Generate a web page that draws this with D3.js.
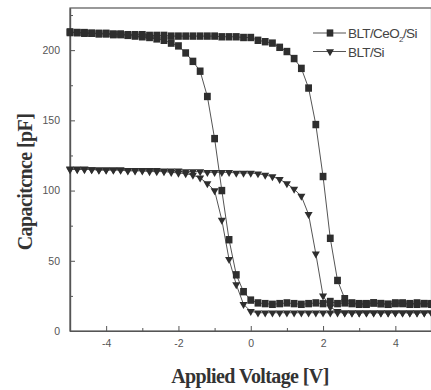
<!DOCTYPE html>
<html>
<head>
<meta charset="utf-8">
<script src="https://cdn.jsdelivr.net/npm/d3@7"></script>
<style>
  body { margin: 0; background: #fff; }
  svg { display: block; }
</style>
</head>
<body>
<script>
// applied voltage, -5 V .. 5 V in 0.2 V steps
var voltage = [-5.0, -4.8, -4.6, -4.4, -4.2, -4.0, -3.8, -3.6, -3.4, -3.2,
               -3.0, -2.8, -2.6, -2.4, -2.2, -2.0, -1.8, -1.6, -1.4, -1.2,
               -1.0, -0.8, -0.6, -0.4, -0.2, 0.0, 0.2, 0.4, 0.6, 0.8,
               1.0, 1.2, 1.4, 1.6, 1.8, 2.0, 2.2, 2.4, 2.6, 2.8,
               3.0, 3.2, 3.4, 3.6, 3.8, 4.0, 4.2, 4.4, 4.6, 4.8, 5.0];

// BLT/CeO2/Si, sweep -5 -> 5 (values listed by voltage)
var ceoUp = [213, 212.5, 212.5, 212, 212, 212, 211.5, 211.5, 211, 211,
             211, 210.5, 210.5, 210.5, 210, 210, 210, 210, 210, 210,
             210, 209.5, 209.5, 209.5, 209, 209, 207, 206, 205, 202,
             199, 194, 187, 173, 147, 110, 66, 36, 23, 20,
             19.5, 19, 20, 19.5, 19, 20, 19.5, 19, 20, 19.5, 19];
// BLT/CeO2/Si, sweep 5 -> -5 (values listed by voltage)
var ceoDown = [212.5, 212.5, 212, 212, 211.5, 211.5, 211, 211, 210.5, 210,
               209.5, 209, 208, 207, 205, 203, 198, 192, 185, 167,
               137, 100, 65, 40, 28, 22, 20, 19.5, 19, 19.5,
               20, 19.5, 19, 19.5, 20, 19.5, 21, 19.5, 20, 19.5,
               19, 19.5, 20, 19.5, 19, 19.5, 20, 19.5, 19, 19.5, 19.5];

// BLT/Si, sweep -5 -> 5
var siUp = [115.5, 115.5, 115.5, 115, 115, 115, 115, 115, 114.5, 114.5,
            114.5, 114.5, 114.5, 114, 114, 114, 113.5, 113.5, 113.5, 113,
            113, 113, 113, 112.5, 112.5, 112.5, 112, 111, 110, 108,
            105, 101, 96, 83, 55, 25, 17, 14, 13, 13,
            13, 13, 13, 13, 13, 13, 13, 13, 13, 13, 13];
// BLT/Si, sweep 5 -> -5
var siDown = [115, 115, 115, 115, 114.5, 114.5, 114.5, 114.5, 114, 114,
              114, 113.5, 113.5, 113.5, 113, 112.5, 112, 111, 109, 105,
              100, 79, 51, 33, 19, 14, 13, 13, 13, 13,
              13, 13, 13, 13, 13, 13, 13, 13, 13, 13,
              13, 13, 13, 13, 13, 13, 13, 13, 13, 13, 13];

var xTicks = [-4, -2, 0, 2, 4];
var xMinor = [-5, -3, -1, 1, 3, 5];
var yTicks = [0, 50, 100, 150, 200];
var yMinor = [25, 75, 125, 175, 225];

var legendNames = ["BLT/CeO", "BLT/Si"];

var width = 431, height = 390;
var margin = {top: 8, right: 0, bottom: 59, left: 70};

var svg = d3.select("body").append("svg")
    .attr("width", width)
    .attr("height", height);

var x = d3.scaleLinear().domain([-5, 5]).range([margin.left, 431.5]);
var y = d3.scaleLinear().domain([0, 230]).range([height - margin.bottom, margin.top]);

var axisColor = "#555";

// frame
svg.append("rect")
    .attr("x", x(-5)).attr("y", y(230))
    .attr("width", x(5) - x(-5)).attr("height", y(0) - y(230))
    .attr("fill", "none").attr("stroke", axisColor).attr("stroke-width", 1.2);

// x axis, ticks pointing inward, plain hyphen for negatives
var xAxis = svg.append("g")
    .attr("transform", "translate(0," + y(0) + ")")
    .call(d3.axisBottom(x).tickValues(xTicks).tickSizeInner(-5).tickSizeOuter(0).tickPadding(9)
          .tickFormat(function(d) { return String(d); }));
svg.append("g")
    .attr("transform", "translate(0," + y(0) + ")")
    .call(d3.axisBottom(x).tickValues(xMinor).tickSizeInner(-3).tickSizeOuter(0).tickFormat(""));

var yAxis = svg.append("g")
    .attr("transform", "translate(" + x(-5) + ",0)")
    .call(d3.axisLeft(y).tickValues(yTicks).tickSizeInner(-5).tickSizeOuter(0).tickPadding(10));
svg.append("g")
    .attr("transform", "translate(" + x(-5) + ",0)")
    .call(d3.axisLeft(y).tickValues(yMinor).tickSizeInner(-3).tickSizeOuter(0).tickFormat(""));

svg.selectAll(".domain").attr("stroke", axisColor).attr("stroke-width", 1.2);
svg.selectAll(".tick line").attr("stroke", axisColor);
svg.selectAll(".tick text")
    .attr("fill", "#555")
    .style("font-family", "'Liberation Sans', Arial, sans-serif")
    .style("font-size", "10.5px");

// series
var markColor = "#2e2e2e";
var lineColor = "#555";

function loop(up, down) {
  var pts = voltage.map(function(v, i) { return [v, up[i]]; });
  for (var i = voltage.length - 1; i >= 0; i--) pts.push([voltage[i], down[i]]);
  return pts;
}

var line = d3.line()
    .x(function(d) { return x(d[0]); })
    .y(function(d) { return y(d[1]); });

var siPts = loop(siUp, siDown);
var ceoPts = loop(ceoUp, ceoDown);

var plot = svg.append("g");

plot.append("path").datum(siPts)
    .attr("d", line).attr("fill", "none").attr("stroke", lineColor).attr("stroke-width", 1);
plot.append("path").datum(ceoPts)
    .attr("d", line).attr("fill", "none").attr("stroke", lineColor).attr("stroke-width", 1);

var tri = d3.symbol().type(d3.symbolTriangle).size(28);
plot.selectAll(".tri").data(siPts).enter().append("path")
    .attr("class", "tri")
    .attr("d", tri)
    .attr("transform", function(d) { return "translate(" + x(d[0]) + "," + y(d[1]) + ") rotate(180)"; })
    .attr("fill", markColor);

plot.selectAll(".sq").data(ceoPts).enter().append("rect")
    .attr("class", "sq")
    .attr("x", function(d) { return x(d[0]) - 3.4; })
    .attr("y", function(d) { return y(d[1]) - 3.7; })
    .attr("width", 6.8).attr("height", 7.4)
    .attr("fill", markColor);

// legend
var leg = svg.append("g");
var legY = [33, 51.5];
leg.selectAll("line").data(legY).enter().append("line")
    .attr("x1", 313).attr("x2", 346)
    .attr("y1", function(d) { return d; }).attr("y2", function(d) { return d; })
    .attr("stroke", lineColor).attr("stroke-width", 1.2);
leg.append("rect")
    .attr("x", 326.7).attr("y", legY[0] - 3.6).attr("width", 6.6).attr("height", 7.2)
    .attr("fill", markColor);
leg.append("path")
    .attr("d", tri)
    .attr("transform", "translate(330," + legY[1] + ") rotate(180)")
    .attr("fill", markColor);

var legFont = "'Liberation Sans', Arial, sans-serif";
var t1 = leg.append("text")
    .attr("x", 348).attr("y", legY[0] + 5)
    .attr("fill", "#444")
    .style("font-family", legFont).style("font-size", "13.5px")
    .style("letter-spacing", "-0.6px");
t1.append("tspan").text(legendNames[0]);
t1.append("tspan").attr("dy", 4).style("font-size", "8px").text("2");
t1.append("tspan").attr("dy", -4).text("/Si");
leg.append("text")
    .attr("x", 348).attr("y", legY[1] + 5)
    .attr("fill", "#444")
    .style("font-family", legFont).style("font-size", "13.5px")
    .style("letter-spacing", "-0.6px")
    .text(legendNames[1]);

// axis titles
var titleFont = "'Liberation Serif', 'Times New Roman', serif";
svg.append("text")
    .attr("x", 250).attr("y", 383)
    .attr("text-anchor", "middle")
    .attr("fill", "#333")
    .style("font-family", titleFont).style("font-weight", "bold").style("font-size", "20px")
    .style("letter-spacing", "-0.6px")
    .text("Applied Voltage [V]");

svg.append("text")
    .attr("transform", "translate(32,182) rotate(-90)")
    .attr("text-anchor", "middle")
    .attr("fill", "#333")
    .style("font-family", titleFont).style("font-weight", "bold").style("font-size", "20px")
    .style("letter-spacing", "-0.6px")
    .text("Capacitcnce [pF]");
</script>
</body>
</html>
